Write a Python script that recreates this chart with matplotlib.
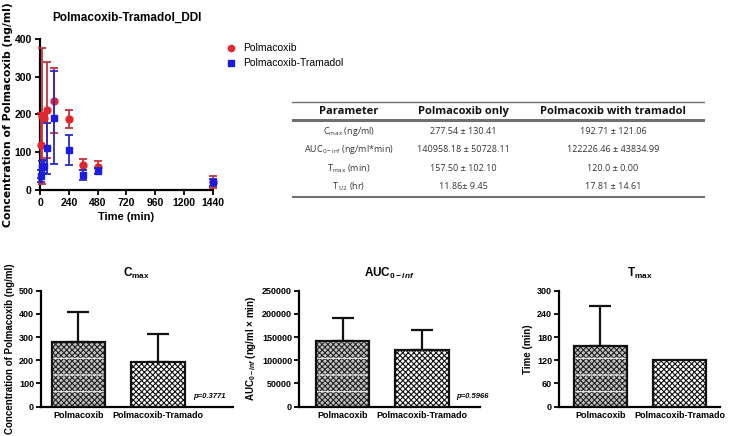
import matplotlib
matplotlib.use("Agg")
import matplotlib.pyplot as plt
from matplotlib.lines import Line2D

plt.rcParams['font.family'] = ['Liberation Sans', 'DejaVu Sans']
plt.rcParams['mathtext.fontset'] = 'custom'
plt.rcParams['mathtext.it'] = 'Liberation Sans:italic:bold'
plt.rcParams['mathtext.rm'] = 'Liberation Sans:bold'
plt.rcParams['hatch.linewidth'] = 0.8

# ---------------- data ----------------
time_min = [5, 15, 30, 60, 120, 240, 360, 480, 1440]
polm_mean = [118, 196, 192, 213, 237, 188, 67, 60, 22]
polm_sd = [85, 180, 10, 127, 86, 24, 15, 18, 16]
tram_mean = [37, 60, 63, 110, 192, 106, 40, 50, 20]
tram_sd = [15, 18, 17, 67, 122, 39, 13, 8, 10]
series_names = ['Polmacoxib', 'Polmacoxib-Tramadol']

groups = ['Polmacoxib', 'Polmacoxib-Tramado']
cmax_mean = [277.54, 192.71]
cmax_sd = [130.41, 121.06]
auc_mean = [140958.18, 122226.46]
auc_sd = [50728.11, 43834.99]
tmax_mean = [157.50, 120.0]
tmax_sd = [102.10, 0.00]
p_cmax = 'p=0.3771'
p_auc = 'p=0.5966'

table_header = ['Parameter', 'Polmacoxib only', 'Polmacoxib with tramadol']
table_params = [r'C$_{\mathregular{max}}$ (ng/ml)', r'AUC$_{\mathregular{0-inf}}$ (ng/ml*min)',
                r'T$_{\mathregular{max}}$ (min)', r'T$_{\mathregular{1/2}}$ (hr)']
table_only = ['277.54 ± 130.41', '140958.18 ± 50728.11', '157.50 ± 102.10', '11.86± 9.45']
table_with = ['192.71 ± 121.06', '122226.46 ± 43834.99', '120.0 ± 0.00', '17.81 ± 14.61']

W, H = 743, 436
fig = plt.figure(figsize=(W / 100, H / 100), dpi=100)


def rect(x0, y0, x1, y1):
    return [x0 / W, 1 - y1 / H, (x1 - x0) / W, (y1 - y0) / H]


def style(ax, labelsize=7, pad=1.5):
    for s in ['top', 'right']:
        ax.spines[s].set_visible(False)
    for s in ['left', 'bottom']:
        ax.spines[s].set_linewidth(1.6)
    ax.tick_params(width=1.3, length=3.5, labelsize=labelsize, pad=pad)
    for lab in ax.get_xticklabels() + ax.get_yticklabels():
        lab.set_fontweight('bold')


# ---------------- PK profile ----------------
ax = fig.add_axes(rect(40, 39, 213, 190))
red = '#e3262e'
blue = '#1c1ce0'
ax.errorbar(time_min, polm_mean, yerr=polm_sd, fmt='o', color=red, ecolor='#c8303c',
            elinewidth=1.3, capsize=3, capthick=1.3, markersize=5, clip_on=False,
            label=series_names[0], zorder=3)
ax.errorbar(time_min, tram_mean, yerr=tram_sd, fmt='s', color=blue, ecolor='#2a2ac8',
            elinewidth=1.3, capsize=3, capthick=1.3, markersize=5, clip_on=False,
            label=series_names[1], zorder=4)
ax.set_xlim(0, 1440)
ax.set_ylim(0, 400)
ax.set_xticks([0, 240, 480, 720, 960, 1200, 1440])
ax.set_yticks([0, 100, 200, 300, 400])
style(ax, labelsize=7.5, pad=2.5)
ax.set_xlabel('Time (min)', fontsize=8, fontweight='bold', labelpad=3)
ax.set_ylabel('Concentration of Polmacoxib (ng/ml)', fontsize=7.8, fontweight='bold',
              family='DejaVu Sans', labelpad=1)
ax.set_title('Polmacoxib-Tramadol_DDI', fontsize=8.5, fontweight='bold', pad=13)
h, l = ax.get_legend_handles_labels()
h = [Line2D([], [], marker='o', ls='', color=red, markersize=4.5),
     Line2D([], [], marker='s', ls='', color=blue, markersize=4.5)]
ax.legend(h, l, loc='upper left', bbox_to_anchor=(1.05, 1.0), frameon=False,
          fontsize=7.5, handletextpad=0.7, labelspacing=0.5, handlelength=1.0,
          borderaxespad=0)

# ---------------- table ----------------
tax = fig.add_axes(rect(292, 98, 705, 200))
tax.set_xlim(292, 705)
tax.set_ylim(200, 98)
tax.axis('off')
tax.plot([292, 705], [102, 102], color='#707070', lw=1.0)
tax.plot([292, 705], [120, 120], color='#707070', lw=2.2)
tax.plot([292, 705], [197, 197], color='#707070', lw=1.5)
col_x = [349, 463, 613]
for cx, txt in zip(col_x, table_header):
    tax.text(cx, 112, txt, ha='center', va='center', fontsize=8, fontweight='bold',
             family='Open Sans', color='#111111')
row_y = [132, 150, 169, 187]
for ry, a, b, c in zip(row_y, table_params, table_only, table_with):
    for cx, txt in zip(col_x, [a, b, c]):
        tax.text(cx, ry, txt, ha='center', va='center', fontsize=6.5,
                 family='Open Sans', color='#333333')

# ---------------- bar charts ----------------
BW = 0.67


def bars(box, mean, sd, ylim, yticks, title, ylabel, xlim, pval=None, ylfs=6.5):
    ax = fig.add_axes(rect(*box))
    pos = [0, 1]
    ax.bar(pos[0], mean[0], width=BW, color='#c4c4c4', edgecolor='#222222',
           hatch='xxxxxx', linewidth=0, zorder=2)
    ax.bar(pos[0], mean[0], width=BW, fill=False, edgecolor='#eeeeee',
           hatch='-', linewidth=0, zorder=2.5)
    ax.bar(pos[1], mean[1], width=BW, color='white', edgecolor='#111111',
           hatch='xxxxxx', linewidth=0, zorder=2)
    ax.bar(pos, mean, width=BW, fill=False, edgecolor='#111111', linewidth=1.6, zorder=3)
    for p, m, s in zip(pos, mean, sd):
        if s > 0:
            ax.errorbar(p, m, yerr=[[0], [s]], fmt='none', ecolor='#111111',
                        elinewidth=1.6, capsize=8, capthick=1.6, zorder=1)
    ax.set_xlim(*xlim)
    ax.set_ylim(*ylim)
    ax.set_yticks(yticks)
    ax.set_xticks(pos)
    ax.set_xticklabels(groups)
    style(ax, labelsize=6.5)
    ax.tick_params(axis='x', length=0, pad=3)
    ax.set_title(title, fontsize=8.5, fontweight='bold', pad=10)
    ax.set_ylabel(ylabel, fontsize=ylfs, fontweight='bold', labelpad=3)
    if pval:
        ax.text(1 + BW / 2 + 0.1, ylim[1] * 0.09, pval, ha='left', va='center',
                fontsize=5.5, style='italic', fontweight='bold')
    return ax


bars((41, 290.7, 233, 406.7), cmax_mean, cmax_sd, (0, 500), [0, 100, 200, 300, 400, 500],
     r'C$_{\mathregular{max}}$', 'Concentration of Polmacoxib (ng/ml)', (-0.47, 1.94), p_cmax,
     ylfs=7)
bars((299, 290.7, 480, 406.7), auc_mean, auc_sd, (0, 250000),
     [0, 50000, 100000, 150000, 200000, 250000],
     r'AUC$_{\mathit{0-inf}}$', r'AUC$_{\mathit{0-inf}}$ (ng/ml × min)', (-0.55, 1.73), p_auc,
     ylfs=7)
bars((559, 290.7, 720, 406.7), tmax_mean, tmax_sd, (0, 300), [0, 60, 120, 180, 240, 300],
     r'T$_{\mathregular{max}}$', 'Time (min)', (-0.52, 1.51), None, ylfs=7)

fig.savefig('out.png', dpi=100)
